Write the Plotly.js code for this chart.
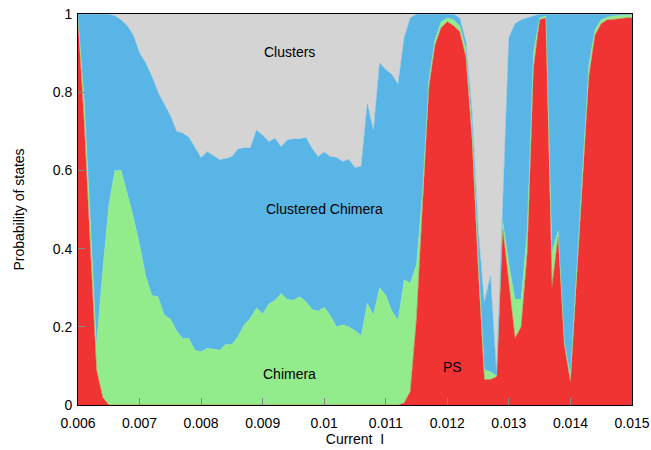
<!DOCTYPE html>
<html>
<head>
<meta charset="utf-8">
<script src="https://cdn.plot.ly/plotly-3.0.1.min.js"></script>
<style>
html,body{margin:0;padding:0;background:#fff;}
#chart{width:651px;height:450px;}
</style>
</head>
<body>
<div id="chart"></div>
<script>
// Current values (step 0.0001 from 0.006 to 0.015)
var current = [];
for (var k = 0; k <= 90; k++) current.push(+(0.006 + k * 0.0001).toFixed(4));

// Cumulative probability boundaries
// top of PS (red) band
var psTop = [
  0.98, 0.72, 0.40, 0.09, 0.02, 0, 0, 0, 0, 0,
  0, 0, 0, 0, 0, 0, 0, 0, 0, 0,
  0, 0, 0, 0, 0, 0, 0, 0, 0, 0,
  0, 0, 0, 0, 0, 0, 0, 0, 0, 0,
  0, 0, 0, 0, 0, 0, 0, 0, 0, 0,
  0, 0, 0, 0.005, 0.035, 0.22, 0.53, 0.81, 0.92, 0.965,
  0.98, 0.97, 0.955, 0.89, 0.68, 0.35, 0.065, 0.065, 0.072, 0.45,
  0.31, 0.17, 0.20, 0.39, 0.86, 0.985, 0.99, 0.30, 0.43, 0.155,
  0.056, 0.33, 0.58, 0.84, 0.946, 0.975, 0.985, 0.986, 0.988, 0.99,
  0.99
];
// top of Chimera (green) band = PS + Chimera
var chimeraTop = [
  0.99, 0.78, 0.47, 0.15, 0.34, 0.51, 0.60, 0.60, 0.54, 0.48,
  0.41, 0.33, 0.28, 0.277, 0.23, 0.22, 0.19, 0.17, 0.17, 0.14,
  0.136, 0.145, 0.143, 0.14, 0.155, 0.155, 0.175, 0.205, 0.222, 0.248,
  0.233, 0.258, 0.268, 0.285, 0.27, 0.268, 0.277, 0.265, 0.245, 0.24,
  0.25, 0.228, 0.20, 0.205, 0.20, 0.19, 0.177, 0.26, 0.23, 0.30,
  0.28, 0.24, 0.217, 0.32, 0.312, 0.36, 0.55, 0.83, 0.935, 0.98,
  0.99, 0.985, 0.97, 0.91, 0.71, 0.38, 0.09, 0.085, 0.075, 0.47,
  0.36, 0.27, 0.27, 0.45, 0.90, 0.99, 0.995, 0.39, 0.445, 0.16,
  0.075, 0.34, 0.60, 0.87, 0.96, 0.985, 0.992, 0.995, 0.996, 0.997,
  0.998
];
// top of Clustered Chimera (blue) band = PS + Chimera + Clustered Chimera
var clusteredTop = [
  1, 1, 1, 1, 1, 1, 0.995, 0.985, 0.97, 0.945,
  0.90, 0.875, 0.84, 0.80, 0.77, 0.74, 0.70, 0.695, 0.685, 0.657,
  0.632, 0.648, 0.637, 0.627, 0.63, 0.635, 0.655, 0.657, 0.657, 0.703,
  0.69, 0.673, 0.682, 0.66, 0.678, 0.68, 0.68, 0.684, 0.657, 0.635,
  0.647, 0.635, 0.633, 0.623, 0.628, 0.607, 0.61, 0.77, 0.70, 0.875,
  0.858, 0.845, 0.82, 0.94, 0.99, 1, 1, 1, 1, 1,
  1, 1, 0.99, 0.93, 0.75, 0.45, 0.26, 0.33, 0.077, 0.50,
  0.94, 0.975, 0.985, 0.99, 0.995, 1, 1, 1, 1, 1,
  1, 1, 1, 1, 1, 1, 1, 1, 1, 1,
  1
];
// top of Clusters (gray) band = total probability
var clustersTop = current.map(function(){ return 1; });

var stateNames = ['PS', 'Chimera', 'Clustered Chimera', 'Clusters'];
var stateColors = ['#f03434', '#92ec8c', '#58b5e6', '#d4d4d4'];
var bands = [psTop, chimeraTop, clusteredTop, clustersTop];

var traces = bands.map(function(b, j){
  return {
    x: current, y: b, name: stateNames[j],
    type: 'scatter', mode: 'lines',
    line: {width: 0.5, color: stateColors[j], shape: 'linear'},
    fill: j === 0 ? 'tozeroy' : 'tonexty',
    fillcolor: stateColors[j],
    hoverinfo: 'x+y+name'
  };
});

var fontFam = '"Liberation Sans", Arial, Helvetica, sans-serif';
var labelPos = [
  {x: 0.012076, y: 0.097, text: 'PS'},
  {x: 0.00944, y: 0.079, text: 'Chimera'},
  {x: 0.01, y: 0.501, text: 'Clustered Chimera'},
  {x: 0.00944, y: 0.903, text: 'Clusters'}
];

var layout = {
  width: 651, height: 450,
  margin: {l: 78, r: 19, t: 14, b: 45},
  paper_bgcolor: '#fff', plot_bgcolor: '#fff',
  showlegend: false,
  font: {family: fontFam, size: 14, color: '#000'},
  xaxis: {
    range: [0.006, 0.015],
    tickvals: [0.006,0.007,0.008,0.009,0.01,0.011,0.012,0.013,0.014,0.015],
    ticktext: ['0.006','0.007','0.008','0.009','0.01','0.011','0.012','0.013','0.014','0.015'],
    ticks: 'inside', ticklen: 7, tickcolor: '#888', tickwidth: 1,
    ticklabelstandoff: 5,
    showgrid: false, zeroline: false,
    showline: true, linecolor: '#000', linewidth: 1, mirror: true,
    tickfont: {size: 14, family: fontFam},
    title: {text: 'Current  I', font: {size: 14, family: fontFam}, standoff: 4}
  },
  yaxis: {
    range: [0, 1],
    tickvals: [0, 0.2, 0.4, 0.6, 0.8, 1],
    ticktext: ['0', '0.2', '0.4', '0.6', '0.8', '1'],
    ticks: 'inside', ticklen: 7, tickcolor: '#888', tickwidth: 1,
    ticklabelstandoff: 2,
    showgrid: false, zeroline: false,
    showline: true, linecolor: '#000', linewidth: 1, mirror: true,
    tickfont: {size: 14, family: fontFam},
    title: {text: 'Probability of states', font: {size: 14, family: fontFam}, standoff: 24}
  },
  annotations: labelPos.map(function(a){
    return {x: a.x, y: a.y, xref: 'x', yref: 'y', text: a.text,
            showarrow: false, font: {size: 14, family: fontFam, color: '#000'}};
  })
};

Plotly.newPlot('chart', traces, layout, {displayModeBar: false, staticPlot: true});
</script>
</body>
</html>
